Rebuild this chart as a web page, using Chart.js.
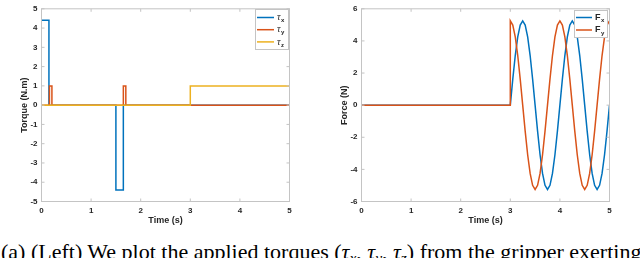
<!DOCTYPE html>
<html>
<head>
<meta charset="utf-8">
<script src="https://cdn.jsdelivr.net/npm/chart.js@4.4.0/dist/chart.umd.min.js"></script>
<style>
body { margin: 0; width: 640px; height: 258px; background: #fff; overflow: hidden; position: relative; }
canvas { position: absolute; top: 0; }
#caption { position: absolute; left: 1px; top: 240.5px; font: 22px/22px "Liberation Serif", "Times New Roman", serif; white-space: nowrap; color: #000; }
#caption sub { font-size: 70%; vertical-align: -0.25em; line-height: 0; }
</style>
</head>
<body>
<canvas id="torqueChart" width="300" height="227" style="left:0"></canvas>
<canvas id="forceChart" width="300" height="227" style="left:320px"></canvas>
<div id="caption">(a) (Left) We plot the applied torques (<i>τ<sub>x</sub></i>, <i>τ<sub>y</sub></i>, <i>τ<sub>z</sub></i>) from the gripper exerting</div>
<script>
// torque pulses (left plot)
const timeTx = [0, 0.15, 0.15, 1.5, 1.5, 1.65, 1.65, 5];
const tauX = [4.4, 4.4, 0, 0, -4.4, -4.4, 0, 0];
const timeTy = [0, 0.16, 0.16, 0.21, 0.21, 1.65, 1.65, 1.7, 1.7, 5];
const tauY = [0, 0, 1, 1, 0, 0, 1, 1, 0, 0];
const timeTz = [0, 3, 3, 5];
const tauZ = [0, 0, 1, 1];

// forces (right plot), read every 0.05 s after t = 3
const timeF = [0, 3, 3, 3.05, 3.1, 3.15, 3.2, 3.25, 3.3, 3.35, 3.4, 3.45, 3.5, 3.55, 3.6, 3.65, 3.7, 3.75, 3.8, 3.85, 3.9, 3.95, 4,
  4.05, 4.1, 4.15, 4.2, 4.25, 4.3, 4.35, 4.4, 4.45, 4.5, 4.55, 4.6, 4.65, 4.7, 4.75, 4.8, 4.85, 4.9, 4.95, 5];
const forceX = [0, 0, 0, 1.62, 3.09, 4.25, 4.99, 5.25, 4.99, 4.25, 3.09, 1.62, 0, -1.62, -3.09, -4.25, -4.99, -5.25, -4.99, -4.25, -3.09, -1.62, 0,
  1.62, 3.09, 4.25, 4.99, 5.25, 4.99, 4.25, 3.09, 1.62, 0, -1.62, -3.09, -4.25, -4.99, -5.25, -4.99, -4.25, -3.09, -1.62, 0];
const forceY = [0, 0, 5.25, 4.99, 4.25, 3.09, 1.62, 0, -1.62, -3.09, -4.25, -4.99, -5.25, -4.99, -4.25, -3.09, -1.62, 0, 1.62, 3.09, 4.25, 4.99, 5.25,
  4.99, 4.25, 3.09, 1.62, 0, -1.62, -3.09, -4.25, -4.99, -5.25, -4.99, -4.25, -3.09, -1.62, 0, 1.62, 3.09, 4.25, 4.99, 5.25];

const blue = '#0072BD';
const orange = '#D95319';
const yellow = '#EDB120';
const axisGray = '#c4c4c4';
const textGray = '#262626';

const pts = (xs, ys) => xs.map((x, i) => ({ x: x, y: ys[i] }));

// box around the plot, inward ticks and a matlab-like legend
const axesBox = {
  id: 'axesBox',
  afterDatasetsDraw(chart, args, opts) {
    const { ctx, chartArea: a, scales } = chart;
    ctx.save();
    ctx.strokeStyle = axisGray;
    ctx.lineWidth = 1;
    ctx.strokeRect(a.left, a.top, a.right - a.left, a.bottom - a.top);
    ctx.beginPath();
    scales.x.ticks.forEach(t => {
      const px = scales.x.getPixelForValue(t.value);
      ctx.moveTo(px, a.bottom); ctx.lineTo(px, a.bottom - 3);
      ctx.moveTo(px, a.top); ctx.lineTo(px, a.top + 3);
    });
    scales.y.ticks.forEach(t => {
      const py = scales.y.getPixelForValue(t.value);
      ctx.moveTo(a.left, py); ctx.lineTo(a.left + 3, py);
      ctx.moveTo(a.right, py); ctx.lineTo(a.right - 3, py);
    });
    ctx.stroke();

    // legend
    const b = opts.box;
    ctx.fillStyle = '#fff';
    ctx.fillRect(b.x, b.y, b.w, b.h);
    ctx.strokeStyle = axisGray;
    ctx.strokeRect(b.x + 0.5, b.y + 0.5, b.w, b.h);
    opts.items.forEach((it, i) => {
      const y = b.y + opts.first + i * opts.step;
      ctx.strokeStyle = it.color;
      ctx.lineWidth = 1.5;
      ctx.beginPath();
      ctx.moveTo(b.x + 2, y);
      ctx.lineTo(b.x + 2 + opts.lineLen, y);
      ctx.stroke();
      ctx.fillStyle = textGray;
      ctx.textBaseline = 'middle';
      ctx.textAlign = 'left';
      ctx.font = opts.mainFont;
      const tx = b.x + opts.lineLen + 5;
      ctx.fillText(it.main, tx, y);
      const w = ctx.measureText(it.main).width;
      ctx.font = 'bold 6px "Liberation Sans", Arial, sans-serif';
      ctx.fillText(it.sub, tx + w + 0.5, y + 3);
    });
    ctx.restore();
  }
};

function makeOptions(yMin, yMax, yStep, yTitle, legend) {
  return {
    responsive: false,
    animation: false,
    layout: { padding: { top: 5.5, right: 10.5, left: 0, bottom: 0 } },
    elements: { point: { radius: 0 }, line: { borderWidth: 1.5, tension: 0 } },
    plugins: { legend: { display: false }, tooltip: { enabled: false }, axesBox: legend },
    scales: {
      x: {
        type: 'linear', min: 0, max: 5,
        afterFit: s => { s.height = 25.5; },
        grid: { display: false, drawTicks: false },
        border: { display: false },
        ticks: { stepSize: 1, padding: 4, color: textGray, font: { family: '"Liberation Sans", Arial, sans-serif', size: 8, weight: 'bold' } },
        title: { display: true, text: 'Time (s)', color: textGray, padding: { top: 0, bottom: 1.5 }, font: { family: '"Liberation Sans", Arial, sans-serif', size: 9, weight: 'bold' } }
      },
      y: {
        min: yMin, max: yMax,
        afterFit: s => { s.width = 41.5; },
        grid: { display: false, drawTicks: false },
        border: { display: false },
        ticks: { stepSize: yStep, padding: 4, color: textGray, font: { family: '"Liberation Sans", Arial, sans-serif', size: 8, weight: 'bold' } },
        title: { display: true, text: yTitle, color: textGray, padding: { top: 19.5, bottom: 0 }, font: { family: '"Liberation Sans", Arial, sans-serif', size: 9, weight: 'bold' } }
      }
    }
  };
}

new Chart(document.getElementById('torqueChart'), {
  type: 'line',
  data: {
    datasets: [
      { label: 'τx', data: pts(timeTx, tauX), borderColor: blue, order: 3 },
      { label: 'τy', data: pts(timeTy, tauY), borderColor: orange, order: 2 },
      { label: 'τz', data: pts(timeTz, tauZ), borderColor: yellow, order: 1 }
    ]
  },
  options: makeOptions(-5, 5, 1, 'Torque (N.m)', {
    box: { x: 255, y: 9, w: 33, h: 40 },
    first: 8.5, step: 12.2, lineLen: 17,
    mainFont: 'italic 10px "Liberation Serif", serif',
    items: [
      { color: blue, main: 'τ', sub: 'x' },
      { color: orange, main: 'τ', sub: 'y' },
      { color: yellow, main: 'τ', sub: 'z' }
    ]
  }),
  plugins: [axesBox]
});

new Chart(document.getElementById('forceChart'), {
  type: 'line',
  data: {
    datasets: [
      { label: 'Fx', data: pts(timeF, forceX), borderColor: blue, order: 2 },
      { label: 'Fy', data: pts(timeF, forceY), borderColor: orange, order: 1 }
    ]
  },
  options: makeOptions(-6, 6, 2, 'Force (N)', {
    box: { x: 254, y: 10, w: 33, h: 27 },
    first: 7.5, step: 12.5, lineLen: 16,
    mainFont: 'bold 9px "Liberation Sans", Arial, sans-serif',
    items: [
      { color: blue, main: 'F', sub: 'x' },
      { color: orange, main: 'F', sub: 'y' }
    ]
  }),
  plugins: [axesBox]
});
</script>
</body>
</html>
